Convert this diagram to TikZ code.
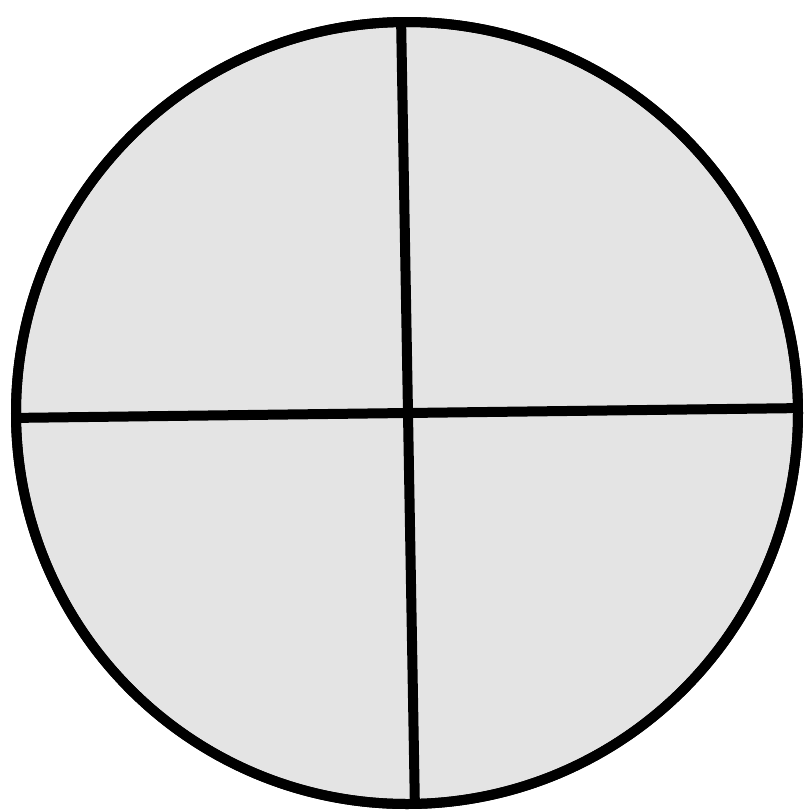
\documentclass[tikz,border=0pt]{standalone}
\definecolor{fillgray}{RGB}{228,228,228}
\tikzset{
  rim/.style={draw=black, line width=10pt, fill=fillgray},
  divider/.style={draw=black, line width=10pt},
}
\begin{document}
\begin{tikzpicture}[x=1pt,y=-1pt]
\useasboundingbox (0,0) rectangle (807,812);
\node[circle, rim, minimum size=782pt, inner sep=0pt] (disc) at (407,413) {};
\coordinate (top) at (401,15);
\coordinate (bot) at (415,812);
\coordinate (lft) at (8,418);
\coordinate (rgt) at (806,408);
\begin{scope}
\clip (407,413) circle (391);
\draw[divider] (top) -- (bot);
\draw[divider] (lft) -- (rgt);
\end{scope}
\draw[black, line width=10pt] (disc.center) circle (391);
\end{tikzpicture}
\end{document}
